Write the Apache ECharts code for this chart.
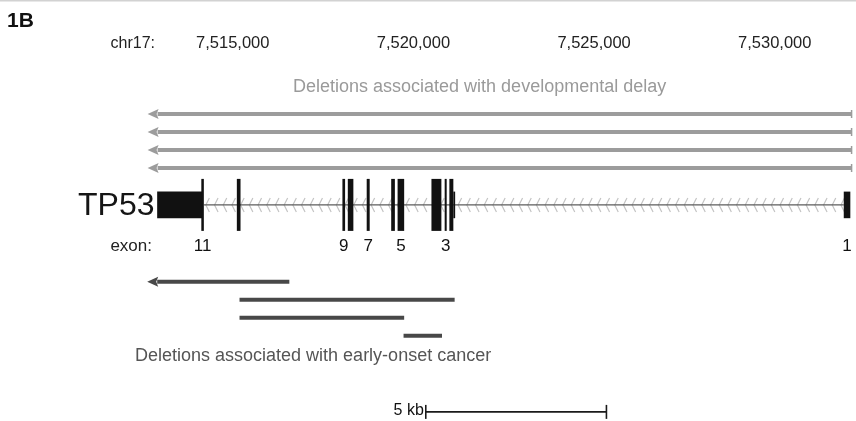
<!DOCTYPE html>
<html>
<head>
<meta charset="utf-8">
<script src="https://cdn.jsdelivr.net/npm/echarts@6/dist/echarts.min.js"></script>
<style>
  html, body { margin: 0; padding: 0; background: #ffffff; }
  #chart { width: 856px; height: 421px; }
</style>
</head>
<body>
<div id="chart"></div>
<script>
// Genomic window on chr17 (bp) and the coordinates printed above the track
const axisMin = 7512000;
const axisMax = 7532166;
const tickLabels = [7515000, 7520000, 7525000, 7530000];

// TP53 exons (minus strand: exon 11 at the low end, exon 1 at the high end)
const exonNames  = ['11', '11', '10', '9', '8', '7', '6', '5', '4', '3', '2', '2', '1'];
const exonStart  = [7512908, 7514130, 7515113, 7518035, 7518184, 7518707, 7519385, 7519562, 7520499, 7520865, 7520995, 7521105, 7531910];
const exonEnd    = [7514160, 7514200, 7515215, 7518109, 7518338, 7518790, 7519487, 7519744, 7520774, 7520921, 7521105, 7521155, 7532092];
const exonCoding = [false, true, true, true, true, true, true, true, true, true, true, false, false];
const labelledExons = ['11', '9', '7', '5', '3', '1'];

// Deletions found in patients with developmental delay (all run off the left end)
const devStart = [7512643, 7512643, 7512643, 7512643];
const devEnd   = [7532120, 7532120, 7532120, 7532120];
const devOpenLeft = [true, true, true, true];

// Deletions found in patients with early-onset cancer
const cancerStart = [7512632, 7515187, 7515187, 7519727];
const cancerEnd   = [7516566, 7521141, 7519744, 7520791];
const cancerOpenLeft = [true, false, false, false];

// Scale bar
const scaleStart = 7520342;
const scaleLength = 5000;

const FONT = '"Liberation Sans", Arial, Helvetica, sans-serif';

// Track lanes (y axis units, one lane per deletion row)
const devLane = i => 1 + i;
const geneLane = 6.05;
const cancerLane = i => 10.32 + i;
const scaleLane = 17.55;

const deletionData = [];
devStart.forEach((s, i) => deletionData.push([s, devEnd[i], devLane(i), devOpenLeft[i] ? 1 : 0, 0]));
cancerStart.forEach((s, i) => deletionData.push([s, cancerEnd[i], cancerLane(i), cancerOpenLeft[i] ? 1 : 0, 1]));

// One label per labelled exon, on its coding block when there is one
const labelIndex = new Set();
labelledExons.forEach(name => {
  let idx = -1;
  exonNames.forEach((n, i) => { if (n === name && (idx < 0 || (exonCoding[i] && !exonCoding[idx]))) idx = i; });
  if (idx >= 0) labelIndex.add(idx);
});
const exonData = exonNames.map((n, i) => [exonStart[i], exonEnd[i], geneLane, exonCoding[i] ? 1 : 0, labelIndex.has(i) ? 1 : 0, n]);

const intronData = [[exonEnd[1], exonStart[exonStart.length - 1], geneLane]];

function renderDeletion(params, api) {
  const p0 = api.coord([api.value(0), api.value(2)]);
  const p1 = api.coord([api.value(1), api.value(2)]);
  const open = api.value(3) === 1;
  const dev = api.value(4) === 0;
  const color = dev ? '#9c9c9c' : '#484848';
  const th = 4;
  const head = open ? 10 : 0;
  const children = [{
    type: 'rect',
    shape: { x: p0[0] + head, y: p0[1] - th / 2, width: p1[0] - p0[0] - head, height: th },
    style: { fill: color }
  }];
  if (open) {
    children.push({
      type: 'polygon',
      shape: { points: [[p0[0], p0[1]], [p0[0] + head + 1, p0[1] - 5], [p0[0] + head - 1, p0[1]], [p0[0] + head + 1, p0[1] + 5]] },
      style: { fill: color }
    });
  }
  if (dev) {
    children.push({
      type: 'rect',
      shape: { x: p1[0] - 0.5, y: p1[1] - 4, width: 1.5, height: 8 },
      style: { fill: color }
    });
  }
  return { type: 'group', children };
}

function renderIntron(params, api) {
  const p0 = api.coord([api.value(0), api.value(2)]);
  const p1 = api.coord([api.value(1), api.value(2)]);
  const y = p0[1];
  const children = [];
  for (let x = p0[0] + 2; x < p1[0] - 2; x += 8.7) {
    children.push({
      type: 'polyline',
      shape: { points: [[x + 3.5, y - 7], [x, y], [x + 3.5, y + 7]] },
      style: { stroke: '#c4c4c4', lineWidth: 1.2, fill: null }
    });
  }
  children.push({
    type: 'line',
    shape: { x1: p0[0], y1: y, x2: p1[0], y2: y },
    style: { stroke: '#5c5c5c', lineWidth: 1.3 }
  });
  return { type: 'group', children };
}

function renderExon(params, api) {
  const p0 = api.coord([api.value(0), api.value(2)]);
  const p1 = api.coord([api.value(1), api.value(2)]);
  const coding = api.value(3) === 1;
  const h = coding ? 52 : 26.6;
  const children = [{
    type: 'rect',
    shape: { x: p0[0], y: p0[1] - h / 2, width: Math.max(p1[0] - p0[0], 1.5), height: h },
    style: { fill: '#111111' }
  }];
  if (api.value(4) === 1) {
    children.push({
      type: 'text',
      style: {
        x: (p0[0] + p1[0]) / 2 - (api.value(5) === '11' ? 3 : 0), y: p0[1] + 41,
        text: String(api.value(5)), fill: '#111111',
        font: '17px ' + FONT, textAlign: 'center', textVerticalAlign: 'middle'
      }
    });
  }
  return { type: 'group', children };
}

function renderScale(params, api) {
  const p0 = api.coord([api.value(0), api.value(2)]);
  const p1 = api.coord([api.value(1), api.value(2)]);
  const y = p0[1];
  return {
    type: 'group',
    children: [
      { type: 'line', shape: { x1: p0[0], y1: y, x2: p1[0], y2: y }, style: { stroke: '#1a1a1a', lineWidth: 1.8 } },
      { type: 'line', shape: { x1: p0[0], y1: y - 7, x2: p0[0], y2: y + 7 }, style: { stroke: '#1a1a1a', lineWidth: 1.6 } },
      { type: 'line', shape: { x1: p1[0], y1: y - 7, x2: p1[0], y2: y + 7 }, style: { stroke: '#1a1a1a', lineWidth: 1.6 } },
      { type: 'text', style: { x: p0[0] - 2, y: y - 1, text: (scaleLength / 1000) + ' kb', fill: '#111111', font: '16px ' + FONT, textAlign: 'right', textVerticalAlign: 'middle' } }
    ]
  };
}

const chart = echarts.init(document.getElementById('chart'), null, { renderer: 'canvas' });

chart.setOption({
  animation: false,
  backgroundColor: '#ffffff',
  grid: { left: 124.36, right: 0, top: 96, bottom: 1 },
  xAxis: {
    type: 'value',
    position: 'top',
    min: axisMin,
    max: axisMax,
    interval: 1000,
    axisLine: { show: false },
    axisTick: { show: false },
    splitLine: { show: false },
    axisLabel: {
      margin: 44,
      fontSize: 16.5,
      fontFamily: FONT,
      color: '#222222',
      formatter: v => tickLabels.includes(v) ? v.toLocaleString('en-US') : ''
    }
  },
  yAxis: { type: 'value', inverse: true, min: 0, max: 18, show: false },
  graphic: [
    { type: 'rect', left: 0, top: 0, shape: { width: 856, height: 1.5 }, style: { fill: '#d2d2d2' } },
    { type: 'text', x: 7, y: 21, style: { text: '1B', font: 'bold 21px ' + FONT, fill: '#111111', textVerticalAlign: 'middle' } },
    { type: 'text', x: 155, y: 44, style: { text: 'chr17:', font: '16px ' + FONT, fill: '#222222', textAlign: 'right', textVerticalAlign: 'middle' } },
    { type: 'text', x: 293, y: 87, style: { text: 'Deletions associated with developmental delay', font: '18px ' + FONT, fill: '#9a9a9a', textVerticalAlign: 'middle' } },
    { type: 'text', x: 78, y: 206, style: { text: 'TP53', font: '32px ' + FONT, fill: '#151515', textVerticalAlign: 'middle' } },
    { type: 'text', x: 152, y: 246, style: { text: 'exon:', font: '17px ' + FONT, fill: '#222222', textAlign: 'right', textVerticalAlign: 'middle' } },
    { type: 'text', x: 135, y: 356, style: { text: 'Deletions associated with early-onset cancer', font: '18px ' + FONT, fill: '#555555', textVerticalAlign: 'middle' } }
  ],
  series: [
    { type: 'custom', name: 'intron', renderItem: renderIntron, data: intronData, z: 1, silent: true },
    { type: 'custom', name: 'exons', renderItem: renderExon, data: exonData, z: 2, silent: true },
    { type: 'custom', name: 'deletions', renderItem: renderDeletion, data: deletionData, z: 3, silent: true },
    { type: 'custom', name: 'scale', renderItem: renderScale, data: [[scaleStart, scaleStart + scaleLength, scaleLane]], z: 3, silent: true }
  ]
});
</script>
</body>
</html>
